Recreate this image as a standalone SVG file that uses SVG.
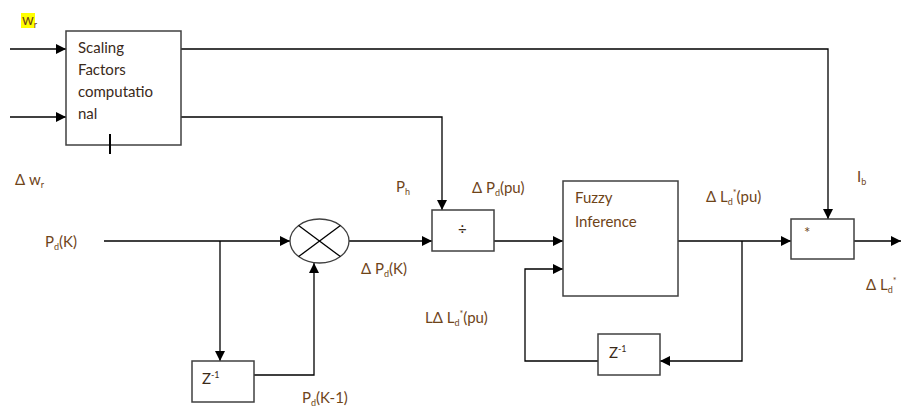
<svg xmlns="http://www.w3.org/2000/svg" width="901" height="407" viewBox="0 0 901 407">
<defs>
<marker id="ah" viewBox="0 0 10 10" refX="10" refY="5" markerWidth="10" markerHeight="10" markerUnits="userSpaceOnUse" orient="auto">
<path d="M0,0 L10,5 L0,10 z" fill="#000"/>
</marker>
<style>
.box{fill:#fff;stroke:#404040;stroke-width:1.5}
.ln{fill:none;stroke:#000;stroke-width:1.3}
.arr{fill:none;stroke:#000;stroke-width:1.3;marker-end:url(#ah)}
.t{font-family:Lato,"Open Sans",sans-serif;font-size:15px;fill:#6e4418}
.bt{font-family:Lato,"Open Sans",sans-serif;font-size:15px;fill:#3a2a1a}
.s{font-size:9px}
</style>
</defs>
<rect width="901" height="407" fill="#fff"/>
<g id="connectors">
<line class="arr" x1="10" y1="49" x2="66" y2="49"/>
<line class="arr" x1="10" y1="117" x2="66" y2="117"/>
<polyline class="arr" points="181,49 828,49 828,219"/>
<polyline class="arr" points="181,117 442,117 442,210"/>
<line class="arr" x1="104" y1="241" x2="290" y2="241"/>
<line class="arr" x1="220" y1="241" x2="220" y2="361"/>
<polyline class="arr" points="254,375 314,375 314,263"/>
<line class="arr" x1="349" y1="241" x2="432" y2="241"/>
<line class="arr" x1="494" y1="241" x2="563" y2="241"/>
<line class="arr" x1="678" y1="241" x2="791" y2="241"/>
<polyline class="arr" points="742,241 742,361 660,361"/>
<polyline class="arr" points="598,361 525,361 525,269 563,269"/>
<line class="arr" x1="854" y1="241" x2="901" y2="241"/>
</g>
<g id="scaling">
<rect class="box" x="66" y="31" width="115" height="114"/>
<line x1="110" y1="134" x2="110" y2="154" stroke="#000" stroke-width="2"/>
<text class="bt" x="78" y="53">Scaling</text>
<text class="bt" x="78" y="75">Factors</text>
<text class="bt" x="78" y="97">computatio</text>
<text class="bt" x="78" y="119">nal</text>
</g>
<g id="multiplier">
<ellipse cx="319.5" cy="241" rx="29.5" ry="22" fill="#fff" stroke="#404040" stroke-width="1.3"/>
<line class="ln" x1="298.6" y1="225.4" x2="340.4" y2="256.6" stroke="#404040"/>
<line class="ln" x1="298.6" y1="256.6" x2="340.4" y2="225.4" stroke="#404040"/>
</g>
<g id="delay1">
<rect class="box" x="192" y="361" width="62" height="41"/>
<text class="bt" x="202" y="384">Z<tspan class="s" dy="-6">-1</tspan></text>
</g>
<g id="divider">
<rect class="box" x="432" y="210" width="62" height="41"/>
<text class="bt" x="458" y="234">÷</text>
</g>
<g id="fuzzy">
<rect class="box" x="563" y="181" width="115" height="115"/>
<text class="t" x="575" y="203">Fuzzy</text>
<text class="t" x="575" y="227">Inference</text>
</g>
<g id="delay2">
<rect class="box" x="598" y="334" width="62" height="41"/>
<text class="bt" x="609" y="358">Z<tspan class="s" dy="-6">-1</tspan></text>
</g>
<g id="product">
<rect class="box" x="791" y="219" width="63" height="40"/>
<text class="t" x="804" y="238" font-size="12">*</text>
</g>
<g id="labels">
<rect x="21" y="13" width="14" height="15" fill="#ffff00"/>
<text class="t" x="22" y="25">w<tspan class="s" dy="3">r</tspan></text>
<text class="t" x="15" y="185">Δ w<tspan class="s" dy="3">r</tspan></text>
<text class="t" x="45" y="247">P<tspan class="s" dy="3">d</tspan><tspan dy="-3">(K)</tspan></text>
<text class="t" x="396" y="192">P<tspan class="s" dy="3">h</tspan></text>
<text class="t" x="472" y="193">Δ P<tspan class="s" dy="3">d</tspan><tspan dy="-3">(pu)</tspan></text>
<text class="t" x="361" y="274">Δ P<tspan class="s" dy="3">d</tspan><tspan dy="-3">(K)</tspan></text>
<text class="t" x="706" y="202">Δ L<tspan class="s" dy="3">d</tspan><tspan class="s" dy="-9">*</tspan><tspan dy="6">(pu)</tspan></text>
<text class="t" x="857" y="182">I<tspan class="s" dy="3">b</tspan></text>
<text class="t" x="866" y="290">Δ L<tspan class="s" dy="3">d</tspan><tspan class="s" dy="-9">*</tspan></text>
<text class="t" x="425" y="323">LΔ L<tspan class="s" dy="3">d</tspan><tspan class="s" dy="-9">*</tspan><tspan dy="6">(pu)</tspan></text>
<text class="t" x="302" y="403">P<tspan class="s" dy="3">d</tspan><tspan dy="-3">(K-1)</tspan></text>
</g>
</svg>
